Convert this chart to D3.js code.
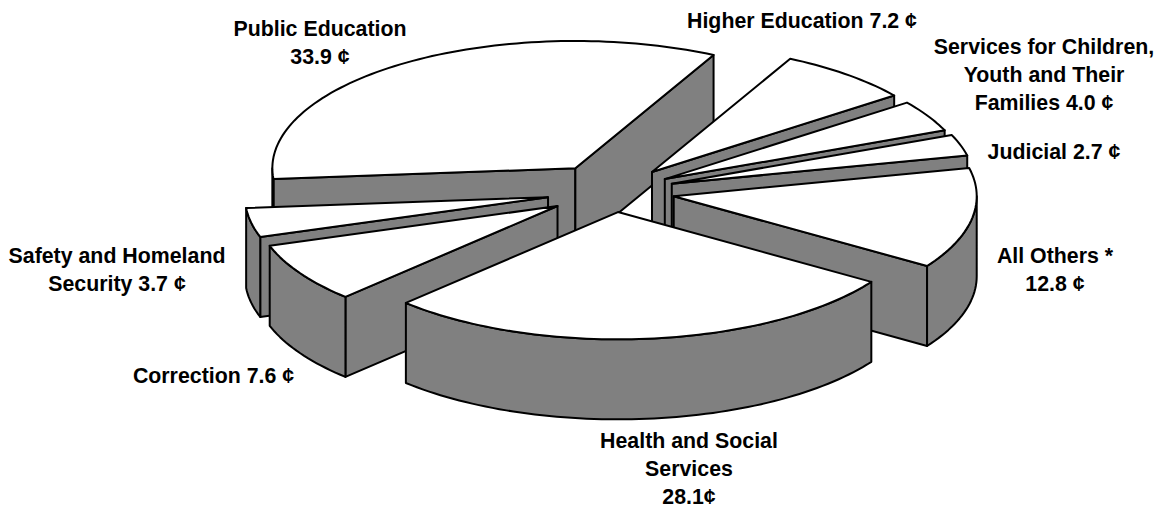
<!DOCTYPE html>
<html>
<head>
<meta charset="utf-8">
<script src="https://cdn.jsdelivr.net/npm/d3@7/dist/d3.min.js"></script>
<style>
html,body{margin:0;padding:0;background:#fff}
svg{display:block}
text{font-family:"Liberation Sans",Arial,sans-serif;font-weight:bold;font-size:21.33px;fill:#000;text-anchor:middle}
</style>
</head>
<body>
<script>
// ---- data ----
const categories = ["Public Education","Higher Education","Services for Children, Youth and Their Families","Judicial","All Others","Health and Social Services","Correction","Safety and Homeland Security"];
const values = [33.9,7.2,4.0,2.7,12.8,28.1,7.6,3.7];
const explodeAmount = [67,61,60,62,62,49,65,66];
const labelLines = [
  ["Public Education","33.9 ¢"],
  ["Higher Education 7.2 ¢"],
  ["Services for Children,","Youth and Their","Families 4.0 ¢"],
  ["Judicial 2.7 ¢"],
  ["All Others *","12.8 ¢"],
  ["Health and Social","Services","28.1¢"],
  ["Correction 7.6 ¢"],
  ["Safety and Homeland","Security 3.7 ¢"]
];
const labelAnchors = [
  [320,36],[802,28],[1044,54],[1054,159],[1055,263],[689,448],[213.5,383],[117,263]
];
const paintOrder = [0,1,2,3,4,7,6,5];

// ---- layout ----
const width=1160,height=506;
const cx=612.7,cy=191.6,radius=303,tilt=0.42,depth=80;
const lineStep=28;
const sx=d3.scaleLinear().domain([-1,1]).range([cx-radius,cx+radius]);
const sy=d3.scaleLinear().domain([-1,1]).range([cy+radius*tilt,cy-radius*tilt]);

const pie=d3.pie().sort(null).value(d=>d).startAngle(0).endAngle(2*Math.PI);
const arcs=pie(values);

// Math angle (ccw from +x, y up). The pie runs clockwise from the left edge of Public Education.
const startMath=184.9*Math.PI/180;
const toMath=a=>startMath-a;

const svg=d3.select("body").append("svg").attr("width",width).attr("height",height);

function pt(theta,r,ox,oy,dz){
  return [sx(r*Math.cos(theta)+ox),sy(r*Math.sin(theta)+oy)+(dz||0)];
}
const lineGen=d3.line();
const STEPS_PER_RAD=40;

function arcPts(hi,lo,ox,oy,dz){
  const n=Math.max(2,Math.ceil((hi-lo)*STEPS_PER_RAD));
  return d3.range(n+1).map(i=>pt(hi+(lo-hi)*i/n,1,ox,oy,dz));
}

paintOrder.forEach(i=>{
  const a=arcs[i];
  const hi=toMath(a.startAngle), lo=toMath(a.endAngle);
  const mid=(hi+lo)/2;
  const e=explodeAmount[i]/radius;
  const ox=e*Math.cos(mid), oy=e*Math.sin(mid);
  const g=svg.append("g");
  const apex=pt(0,0,ox,oy,0), apexB=pt(0,0,ox,oy,depth);
  const wall=(pts)=>g.append("path").attr("d",lineGen(pts)+"Z")
      .attr("fill","#808080").attr("stroke","#000").attr("stroke-width",2).attr("stroke-linejoin","round");
  if(Math.cos(hi)<0){
    wall([apex,pt(hi,1,ox,oy,0),pt(hi,1,ox,oy,depth),apexB]);
  }
  if(Math.cos(lo)>0){
    wall([apex,pt(lo,1,ox,oy,0),pt(lo,1,ox,oy,depth),apexB]);
  }
  // outer wall: parts of the arc facing the viewer
  [[-Math.PI,0],[Math.PI,2*Math.PI]].forEach(([f0,f1])=>{
    const h=Math.min(hi,f1), l=Math.max(lo,f0);
    if(h>l){
      wall(arcPts(h,l,ox,oy,0).concat(arcPts(h,l,ox,oy,depth).reverse()));
    }
  });
  g.append("path").attr("d",lineGen([apex].concat(arcPts(hi,lo,ox,oy,0)))+"Z")
    .attr("fill","#fff").attr("stroke","#000").attr("stroke-width",2).attr("stroke-linejoin","round");
});

labelLines.forEach((lines,i)=>{
  const t=svg.append("text").attr("x",labelAnchors[i][0]).attr("y",labelAnchors[i][1]);
  lines.forEach((s,j)=>t.append("tspan").attr("x",labelAnchors[i][0]).attr("y",labelAnchors[i][1]+j*lineStep).text(s));
});
</script>
</body>
</html>
